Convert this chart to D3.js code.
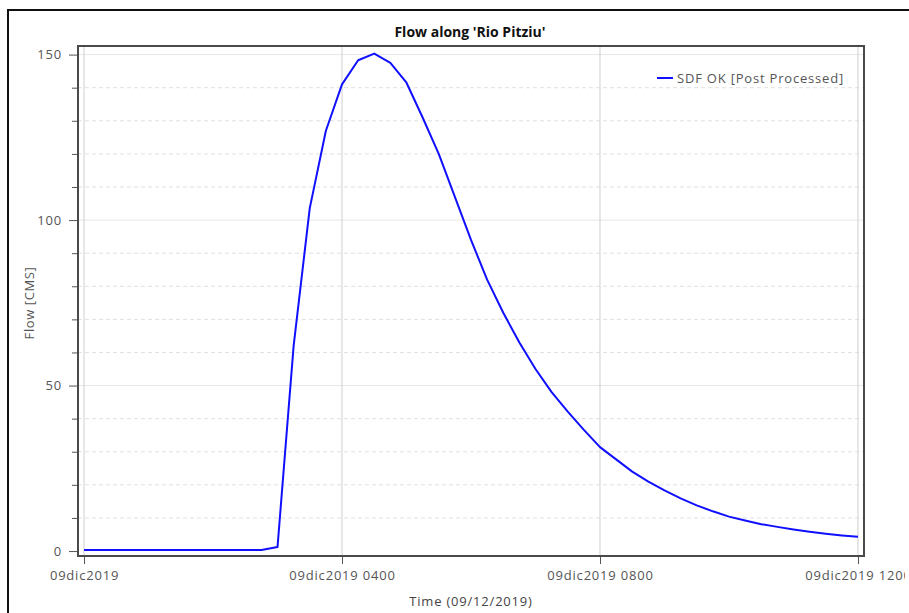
<!DOCTYPE html>
<html>
<head>
<meta charset="utf-8">
<script src="https://cdn.jsdelivr.net/npm/d3@7/dist/d3.min.js"></script>
<style>
  html, body { margin: 0; padding: 0; background: #fff; }
  svg { display: block; }
  text { font-family: "Open Sans", "Noto Sans", sans-serif; }
</style>
</head>
<body>
<svg id="chart" width="909" height="613"></svg>
<script>
// ---- data ----
const chartTitle = "Flow along 'Rio Pitziu'";
const seriesName = "SDF OK [Post Processed]";
const xAxisTitle = "Time (09/12/2019)";
const yAxisTitle = "Flow [CMS]";
const startTime = new Date(2019, 11, 9, 0, 0);
const stepMinutes = 15;
const flow = [
  0.3, 0.3, 0.3, 0.3, 0.3, 0.3, 0.3, 0.3, 0.3, 0.3, 0.3, 0.3,
  1.2, 62, 103.6, 127, 141, 148.3, 150.3, 147.5, 141.5, 131,
  120, 107, 94, 82, 72, 63, 55, 48, 42.1, 36.6, 31.4, 27.7,
  24.0, 21.0, 18.3, 15.9, 13.8, 12.0, 10.4, 9.2, 8.1, 7.3,
  6.5, 5.8, 5.2, 4.7, 4.3
];
const xTickHours = [0, 4, 8, 12];
const xTickLabels = ["09dic2019", "09dic2019 0400", "09dic2019 0800", "09dic2019 1200"];
const yMajorTicks = [0, 50, 100, 150];
const yMinorTicks = [10, 20, 30, 40, 60, 70, 80, 90, 110, 120, 130, 140];

// ---- layout ----
const svg = d3.select("#chart");
const plot = { left: 78, right: 864, top: 46, bottom: 556 };
const padMs = 5.6 * 60000;
const t0 = startTime.getTime();
const data = flow.map((v, i) => ({ t: new Date(t0 + i * stepMinutes * 60000), v }));
const xTicks = xTickHours.map(h => new Date(t0 + h * 3600000));
const FS = 13, LS = 0.8;

const x = d3.scaleTime()
  .domain([new Date(t0 - padMs), new Date(t0 + 12 * 3600000 + padMs)])
  .range([plot.left, plot.right]);
const y = d3.scaleLinear().domain([-1.5, 152.6]).range([plot.bottom, plot.top]);

svg.append("defs").append("clipPath").attr("id", "outerClip")
  .append("rect").attr("x", 0).attr("y", 0).attr("width", 905).attr("height", 613);
svg.append("defs").append("clipPath").attr("id", "plotClip")
  .append("rect").attr("x", plot.left).attr("y", plot.top)
  .attr("width", plot.right - plot.left).attr("height", plot.bottom - plot.top);

const g = svg.append("g").attr("clip-path", "url(#outerClip)");

// gridlines
const grid = g.append("g");
grid.selectAll(".ymin").data(yMinorTicks).join("line")
  .attr("x1", plot.left).attr("x2", plot.right)
  .attr("y1", d => y(d)).attr("y2", d => y(d))
  .attr("stroke", "#e0e0e0").attr("stroke-width", 1).attr("stroke-dasharray", "4,3");
grid.selectAll(".ymaj").data(yMajorTicks.slice(1)).join("line")
  .attr("x1", plot.left).attr("x2", plot.right)
  .attr("y1", d => y(d)).attr("y2", d => y(d))
  .attr("stroke", "#e6e6e6").attr("stroke-width", 1);
grid.selectAll(".xg").data(xTicks).join("line")
  .attr("x1", d => x(d)).attr("x2", d => x(d))
  .attr("y1", plot.top).attr("y2", plot.bottom)
  .attr("stroke", "#cfcfcf").attr("stroke-width", 1);

// series line
g.append("path")
  .datum(data)
  .attr("clip-path", "url(#plotClip)")
  .attr("fill", "none")
  .attr("stroke", "#1010ff")
  .attr("stroke-width", 2)
  .attr("stroke-linejoin", "round")
  .attr("d", d3.line().x(d => x(d.t)).y(d => y(d.v)));

// plot frame
g.append("rect")
  .attr("x", plot.left).attr("y", plot.top)
  .attr("width", plot.right - plot.left).attr("height", plot.bottom - plot.top)
  .attr("fill", "none").attr("stroke", "#4a4a4a").attr("stroke-width", 2);

// y axis
const yAxis = d3.axisLeft(y).tickValues(yMajorTicks).tickSize(8).tickPadding(7);
const ya = g.append("g").attr("transform", `translate(${plot.left - 1},0)`).call(yAxis);
ya.select(".domain").remove();
ya.selectAll(".tick line").attr("stroke", "#555");
ya.selectAll(".tick text").attr("fill", "#555").attr("font-size", FS)
  .attr("letter-spacing", LS).attr("font-family", "'Open Sans', sans-serif");
const yAxisMinor = d3.axisLeft(y).tickValues(yMinorTicks).tickSize(5).tickFormat("");
const ym = g.append("g").attr("transform", `translate(${plot.left - 1},0)`).call(yAxisMinor);
ym.select(".domain").remove();
ym.selectAll(".tick line").attr("stroke", "#555");

// x axis
const xAxis = d3.axisBottom(x).tickValues(xTicks).tickSize(7).tickPadding(7)
  .tickFormat((d, i) => xTickLabels[i]);
const xa = g.append("g").attr("transform", `translate(0,${plot.bottom + 1})`).call(xAxis);
xa.select(".domain").remove();
xa.selectAll(".tick line").attr("stroke", "#555");
xa.selectAll(".tick text").attr("fill", "#555").attr("font-size", FS)
  .attr("letter-spacing", LS).attr("font-family", "'Open Sans', sans-serif");

// titles
g.append("text").attr("x", 470).attr("y", 37).attr("text-anchor", "middle")
  .attr("font-size", 14).attr("font-weight", "bold").attr("fill", "#111")
  .text(chartTitle);
g.append("text").attr("x", 471).attr("y", 606).attr("text-anchor", "middle")
  .attr("font-size", FS).attr("letter-spacing", LS).attr("fill", "#444").text(xAxisTitle);
g.append("text").attr("transform", "translate(34,303) rotate(-90)")
  .attr("text-anchor", "middle").attr("font-size", FS).attr("letter-spacing", 0.6)
  .attr("fill", "#555").text(yAxisTitle);

// legend
const lg = g.append("g");
lg.append("line").attr("x1", 657).attr("x2", 673).attr("y1", 78).attr("y2", 78)
  .attr("stroke", "#1010ff").attr("stroke-width", 2);
lg.append("text").attr("x", 677).attr("y", 83).attr("font-size", FS)
  .attr("letter-spacing", LS).attr("fill", "#555").text(seriesName);

// outer border (top and left)
svg.append("line").attr("x1", 7).attr("x2", 909).attr("y1", 10).attr("y2", 10)
  .attr("stroke", "#111").attr("stroke-width", 2);
svg.append("line").attr("x1", 8).attr("x2", 8).attr("y1", 9).attr("y2", 613)
  .attr("stroke", "#111").attr("stroke-width", 2);
</script>
</body>
</html>
